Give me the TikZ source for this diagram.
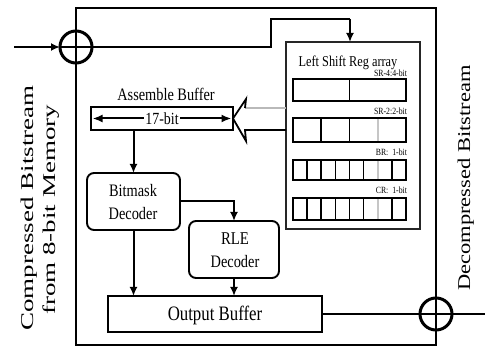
\documentclass[tikz,border=0pt]{standalone}
\usepackage{fontspec}
\setmainfont{Liberation Serif}
\newfontfamily\hf[FakeStretch=0.82]{Liberation Serif}
\newfontfamily\vfL[FakeStretch=1.5]{Liberation Serif}
\newfontfamily\vfR[FakeStretch=1.25]{Liberation Serif}
\usetikzlibrary{arrows.meta}
\begin{document}
\begin{tikzpicture}[x=1pt,y=-1pt,line join=miter,
  arr/.style={-{Latex[length=9pt,width=8pt]},line width=2pt},
  darr/.style={{Latex[length=10pt,width=8pt]}-{Latex[length=10pt,width=8pt]},line width=2pt},
  box/.style={draw,line width=1.9pt,inner sep=0pt,outer sep=0pt},
  rbox/.style={box,rounded corners=7pt},
  cell/.style={line width=1.7pt},
  ring/.style={draw,circle,line width=3pt,minimum size=32pt,inner sep=0pt,outer sep=0pt},
  txt/.style={inner sep=0pt,outer sep=0pt}]
\useasboundingbox (0,0) rectangle (485,347);
% outer frame
\node[box,line width=2.4pt,minimum width=360pt,minimum height=337pt] (outer) at (256,176.5) {};
% register array
\node[box,draw=black!85,minimum width=134pt,minimum height=187pt] (lsr) at (353,135.5) {};
\node[txt,anchor=base,font=\hf\fontsize{15}{15}\selectfont] (lsrt) at (348,67) {Left Shift Reg array};
\foreach \yy/\hh/\nn in {79/22/2,118/24/4,160/20/8,198/22/8}{
  \draw[cell] (293,\yy) rectangle (406,\yy+\hh);
  \pgfmathtruncatemacro{\last}{\nn-1}
  \foreach \i in {1,...,\last}{
    \pgfmathsetmacro{\xx}{293+\i*113/\nn}
    \draw[cell] (\xx,\yy) -- (\xx,\yy+\hh);
  }
}
\foreach \yy/\hh in {118/24,160/20,198/22}{
  \draw[cell,gray!45] (377.75,\yy+1) -- (377.75,\yy+\hh-1);
}
\node[txt,anchor=base east,font=\hf\fontsize{9.5}{9.5}\selectfont] (l1) at (407,77) {SR-4:4-bit};
\node[txt,anchor=base east,font=\hf\fontsize{9.5}{9.5}\selectfont] (l2) at (407,115) {SR-2:2-bit};
\node[txt,anchor=base east,font=\hf\fontsize{9.5}{9.5}\selectfont] (l3) at (407,156) {BR:\ \ 1-bit};
\node[txt,anchor=base east,font=\hf\fontsize{9.5}{9.5}\selectfont] (l4) at (407,194) {CR:\ \ 1-bit};
% assemble buffer
\node[box,minimum width=142pt,minimum height=23pt] (asm) at (162,118.5) {};
\node[txt,anchor=base,font=\hf\fontsize{17.5}{17.5}\selectfont] (asmt) at (166,101) {Assemble Buffer};
\draw[darr] ([xshift=1.5pt]asm.west) -- ([xshift=-1.5pt]asm.east)
  node[midway,fill=white,inner sep=1pt,font=\hf\fontsize{17}{17}\selectfont] {17-bit};
% hollow arrow from register array
\draw[line width=1.6pt,gray!55] (lsr.west |- 0,108) -- (245,108);
\draw[line width=1.8pt] (245,108) -- (246,99) -- (asm.east) -- (246,141) -- (245,130) -- (lsr.west |- 0,130);
% decoders
\node[rbox,minimum width=93pt,minimum height=57pt] (bm) at (133.5,201.5) {};
\node[txt,anchor=base,font=\hf\fontsize{17.5}{17.5}\selectfont] at (133,197) {Bitmask};
\node[txt,anchor=base,font=\hf\fontsize{17.5}{17.5}\selectfont] at (133,220) {Decoder};
\node[rbox,minimum width=90pt,minimum height=57pt] (rle) at (234,249.5) {};
\node[txt,anchor=base,font=\hf\fontsize{18}{18}\selectfont] at (235,245) {RLE};
\node[txt,anchor=base,font=\hf\fontsize{17.5}{17.5}\selectfont] at (235,268) {Decoder};
% output buffer
\node[box,minimum width=214pt,minimum height=36pt] (ob) at (215,314) {};
\node[txt,anchor=base,font=\hf\fontsize{20.5}{20.5}\selectfont] at (215,321) {Output Buffer};
% rings
\node[ring] (inc) at (76,47) {};
\node[ring] (outc) at (436,314) {};
% connectors
\coordinate (src) at (14,47);
\coordinate (dst) at (485,314);
\coordinate (lsrin) at (350,42);
\draw[arr] (src) -- (inc.west);
\draw[line width=2pt] (inc.west) -- (271,47) -- (271,19) -- (350,19);
\draw[arr] (350,19) -- (lsrin);
\draw[arr] (asm.south -| bm.north) -- (bm.north);
\draw[arr] (bm.east) -| (rle.north);
\draw[arr] (bm.south) -- (bm.south |- ob.north);
\draw[arr] (rle.south) -- (rle.south |- ob.north);
\draw[line width=2pt] (ob.east) -- (outc.west) -- (outc.east) -- (dst);
% side texts
\node[txt,anchor=base,rotate=90,font=\vfL\fontsize{18}{18}\selectfont] at (34,208) {Compressed Bitstream};
\node[txt,anchor=base,rotate=90,font=\vfL\fontsize{18}{18}\selectfont] at (55,210) {from 8-bit Memory};
\node[txt,anchor=base,rotate=90,font=\vfR\fontsize{18}{18}\selectfont] at (470,178) {Decompressed Bitstream};
\end{tikzpicture}
\end{document}
